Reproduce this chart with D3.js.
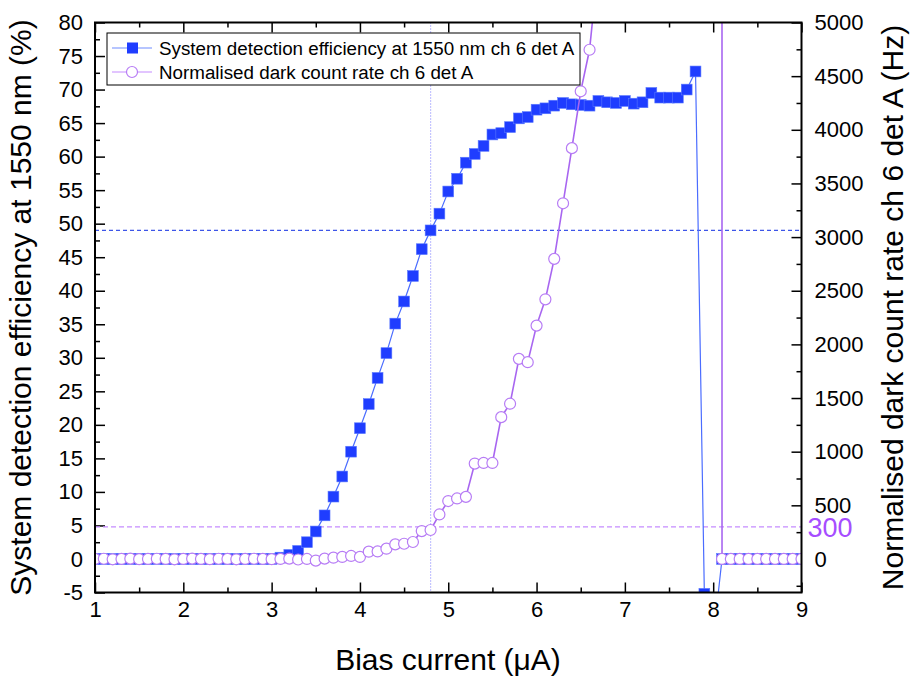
<!DOCTYPE html>
<html>
<head>
<meta charset="utf-8">
<script src="https://cdn.jsdelivr.net/npm/d3@7"></script>
<style>
  body { margin: 0; background: #fff; }
  svg { font-family: "Liberation Sans", Arial, sans-serif; }
  .axis path { display: none; }
  .axis line { stroke: #000; stroke-width: 1.5; }
  .axis text { font-size: 22px; fill: #000; }
</style>
</head>
<body>
<div id="chart"></div>
<script>
  // bias current (uA)
  var bias = [1.0, 1.1, 1.2, 1.3, 1.4, 1.5, 1.6, 1.7, 1.8, 1.9,
              2.0, 2.1, 2.2, 2.3, 2.4, 2.5, 2.6, 2.7, 2.8, 2.9,
              3.0, 3.1, 3.2, 3.3, 3.4, 3.5, 3.6, 3.7, 3.8, 3.9,
              4.0, 4.1, 4.2, 4.3, 4.4, 4.5, 4.6, 4.7, 4.8, 4.9,
              5.0, 5.1, 5.2, 5.3, 5.4, 5.5, 5.6, 5.7, 5.8, 5.9,
              6.0, 6.1, 6.2, 6.3, 6.4, 6.5, 6.6, 6.7, 6.8, 6.9,
              7.0, 7.1, 7.2, 7.3, 7.4, 7.5, 7.6, 7.7, 7.8, 7.9,
              8.0, 8.1, 8.2, 8.3, 8.4, 8.5, 8.6, 8.7, 8.8, 8.9, 9.0];

  // system detection efficiency (%)
  var sde = [0, 0, 0, 0, 0, 0, 0, 0, 0, 0,
             0, 0, 0, 0, 0, 0, 0, 0, 0, 0,
             0, 0.2, 0.6, 1.2, 2.5, 4.1, 6.5, 9.3, 12.3, 16.0,
             19.5, 23.1, 27.0, 30.7, 35.1, 38.4, 42.2, 46.2, 49.0, 51.5,
             54.8, 56.7, 59.1, 60.4, 61.6, 63.3, 63.5, 64.4, 65.7, 65.9,
             67.0, 67.2, 67.6, 68.0, 67.8, 67.7, 67.6, 68.3, 68.1, 68.0,
             68.3, 67.9, 68.1, 69.5, 68.8, 68.8, 68.8, 70.0, 72.7, -5.2,
             -12, 0, 0, 0, 0, 0, 0, 0, 0, 0, 0];

  // normalised dark count rate (Hz)
  var dcr = [0, 2, -3, 0, 3, -2, 0, 2, 0, -3,
             0, 3, 0, -2, 2, 0, -3, 0, 2, 0,
             -2, 0, 3, -5, 0, -15, 3, 12, 19, 28,
             19, 68, 70, 96, 136, 142, 158, 260, 270, 415,
             540, 564, 579, 889, 895, 895, 1322, 1447, 1865, 1834,
             2175, 2420, 2797, 3315, 3829, 4359, 4746, 5550, 6500, 7600,
             8800, 10200, 11800, 13500, 15500, 18000, 21000, 25000, 30000, 60000,
             2000000, 0, 0, 0, 0, 0, 0, 0, 0, 0, 0];

  var xTicks = [1, 2, 3, 4, 5, 6, 7, 8, 9];
  var yLeftTicks = [-5, 0, 5, 10, 15, 20, 25, 30, 35, 40, 45, 50, 55, 60, 65, 70, 75, 80];
  var yRightTicks = [0, 500, 1000, 1500, 2000, 2500, 3000, 3500, 4000, 4500, 5000];

  var sdeLevel = 49, dcrLevel = 300, biasLevel = 4.8;

  var seriesNames = ['System detection efficiency at 1550 nm ch 6 det A',
                     'Normalised dark count rate ch 6 det A'];

  var W = 911, H = 678,
      pL = 95, pR = 801.5, pT = 22.5, pB = 592.5;

  var blue = '#1f3dff', blueLine = '#4a6cff',
      purple = '#b77cf5', purpleLine = '#a866f0';

  var x = d3.scaleLinear().domain([1, 9]).range([pL, pR]),
      yL = d3.scaleLinear().domain([-5, 80]).range([pB, pT]),
      yR = d3.scaleLinear().domain([-312.5, 5000]).range([pB, pT]);

  var data = bias.map(function(b, i) {
    return { b: b, sde: sde[i], dcr: dcr[i] };
  });

  function translate(a, b) { return 'translate(' + a + ',' + b + ')'; }
  function plain(d) { return String(d); }

  var svg = d3.select('#chart').append('svg')
      .attr('width', W)
      .attr('height', H);

  svg.append('defs').append('clipPath').attr('id', 'clip')
    .append('rect')
      .attr('x', pL).attr('y', pT)
      .attr('width', pR - pL).attr('height', pB - pT);

  // axes: major and minor ticks, all pointing inwards
  var xMinor = [1.5, 2.5, 3.5, 4.5, 5.5, 6.5, 7.5, 8.5];
  svg.append('g').attr('class', 'axis')
    .attr('transform', translate(0, pB))
    .call(d3.axisBottom(x).tickValues(xTicks).tickSize(-10).tickPadding(9).tickFormat(plain));
  svg.append('g').attr('class', 'axis')
    .attr('transform', translate(0, pB))
    .call(d3.axisBottom(x).tickValues(xMinor).tickSize(-5).tickFormat(''));
  svg.append('g').attr('class', 'axis')
    .attr('transform', translate(0, pT))
    .call(d3.axisTop(x).tickValues(xTicks).tickSize(-10).tickFormat(''));
  svg.append('g').attr('class', 'axis')
    .attr('transform', translate(0, pT))
    .call(d3.axisTop(x).tickValues(xMinor).tickSize(-5).tickFormat(''));

  svg.append('g').attr('class', 'axis')
    .attr('transform', translate(pL, 0))
    .call(d3.axisLeft(yL).tickValues(yLeftTicks).tickSize(-10).tickPadding(12).tickFormat(plain));
  svg.append('g').attr('class', 'axis')
    .attr('transform', translate(pL, 0))
    .call(d3.axisLeft(yL).tickValues(yLeftTicks.map(function(v) { return v + 2.5; }).slice(0, -1)).tickSize(-5).tickFormat(''));

  svg.append('g').attr('class', 'axis')
    .attr('transform', translate(pR, 0))
    .call(d3.axisRight(yR).tickValues(yRightTicks).tickSize(-10).tickPadding(13).tickFormat(plain));
  svg.append('g').attr('class', 'axis')
    .attr('transform', translate(pR, 0))
    .call(d3.axisRight(yR).tickValues(yRightTicks.map(function(v) { return v - 250; })).tickSize(-5).tickFormat(''));

  var plot = svg.append('g').attr('clip-path', 'url(#clip)');

  // reference lines
  plot.append('line')
    .attr('x1', pL).attr('x2', pR)
    .attr('y1', yL(sdeLevel)).attr('y2', yL(sdeLevel))
    .attr('stroke', '#3d55e8').attr('stroke-width', 1.2)
    .attr('stroke-dasharray', '4,3');
  plot.append('line')
    .attr('x1', pL).attr('x2', pR)
    .attr('y1', yR(dcrLevel)).attr('y2', yR(dcrLevel))
    .attr('stroke', '#c58cff').attr('stroke-width', 1.2)
    .attr('stroke-dasharray', '5,3');
  plot.append('line')
    .attr('x1', x(biasLevel)).attr('x2', x(biasLevel))
    .attr('y1', pT).attr('y2', pB)
    .attr('stroke', '#8c8cff').attr('stroke-width', 1.2)
    .attr('stroke-dasharray', '1,2');

  // efficiency series
  plot.append('path')
    .datum(data)
    .attr('fill', 'none')
    .attr('stroke', blueLine)
    .attr('stroke-width', 1.2)
    .attr('d', d3.line().x(function(d) { return x(d.b); }).y(function(d) { return yL(d.sde); }));

  plot.selectAll('rect.sq')
    .data(data)
    .enter().append('rect')
      .attr('class', 'sq')
      .attr('x', function(d) { return x(d.b) - 5.4; })
      .attr('y', function(d) { return yL(d.sde) - 5.4; })
      .attr('width', 10.8).attr('height', 10.8)
      .attr('fill', blue)
      .attr('stroke', '#5a78ff').attr('stroke-width', 0.6);

  // dark count series
  plot.append('path')
    .datum(data)
    .attr('fill', 'none')
    .attr('stroke', purpleLine)
    .attr('stroke-width', 1.6)
    .attr('d', d3.line().x(function(d) { return x(d.b); }).y(function(d) { return yR(d.dcr); }));

  plot.selectAll('circle.dc')
    .data(data)
    .enter().append('circle')
      .attr('class', 'dc')
      .attr('cx', function(d) { return x(d.b); })
      .attr('cy', function(d) { return yR(d.dcr); })
      .attr('r', 5.5)
      .attr('fill', '#fff')
      .attr('stroke', purple).attr('stroke-width', 1.2);

  // frame
  svg.append('rect')
    .attr('x', pL).attr('y', pT)
    .attr('width', pR - pL).attr('height', pB - pT)
    .attr('fill', 'none').attr('stroke', '#000').attr('stroke-width', 2);

  // 300 marker on the right
  svg.append('text')
    .attr('x', pR + 6).attr('y', yR(dcrLevel) + 10)
    .attr('fill', '#a64dff')
    .style('font-size', '27px')
    .text(dcrLevel);

  // legend
  var lg = svg.append('g').attr('transform', translate(107, 33));
  lg.append('rect')
    .attr('width', 473).attr('height', 52)
    .attr('fill', '#fff').attr('stroke', '#000').attr('stroke-width', 1);
  [0, 1].forEach(function(i) {
    var cy = 15 + i * 24;
    lg.append('line')
      .attr('x1', 5).attr('x2', 45).attr('y1', cy).attr('y2', cy)
      .attr('stroke', i == 0 ? '#6f8cff' : '#c58cff').attr('stroke-width', 1.2);
    if (i == 0) {
      lg.append('rect').attr('x', 20).attr('y', cy - 5.5).attr('width', 11).attr('height', 11)
        .attr('fill', blue);
    } else {
      lg.append('circle').attr('cx', 25).attr('cy', cy).attr('r', 5.5)
        .attr('fill', '#fff').attr('stroke', purple).attr('stroke-width', 1.2);
    }
    lg.append('text')
      .attr('x', 52).attr('y', cy + 6.5)
      .style('font-size', '18.8px')
      .text(seriesNames[i]);
  });

  // axis titles
  svg.append('text')
    .attr('transform', translate(448, 670))
    .attr('text-anchor', 'middle')
    .style('font-size', '30px')
    .text('Bias current (\u03bcA)');
  svg.append('text')
    .attr('transform', translate(31, (pT + pB) / 2) + ' rotate(-90)')
    .attr('text-anchor', 'middle')
    .style('font-size', '30px')
    .text('System detection efficiency at 1550 nm (%)');
  svg.append('text')
    .attr('transform', translate(903, (pT + pB) / 2) + ' rotate(-90)')
    .attr('text-anchor', 'middle')
    .style('font-size', '30px')
    .text('Normalised dark count rate ch 6 det A (Hz)');
</script>
</body>
</html>
